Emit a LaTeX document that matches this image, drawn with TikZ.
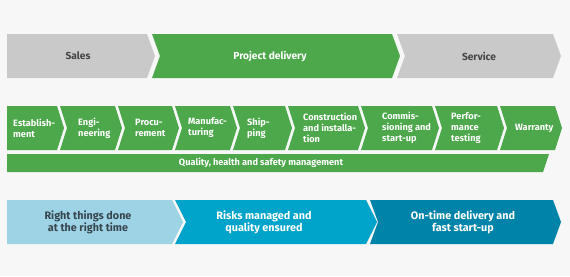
\documentclass[tikz,border=0pt]{standalone}
\usepackage{fontspec}
\setmainfont{Fira Sans}
\definecolor{bgc}{HTML}{F7F7F7}
\definecolor{grayc}{HTML}{C9C9C9}
\definecolor{greenc}{HTML}{4CA84A}
\definecolor{lblue}{HTML}{9ED2E5}
\definecolor{mblue}{HTML}{00A3C9}
\definecolor{dblue}{HTML}{0083A8}
\definecolor{darktext}{HTML}{454545}
\definecolor{bluetext}{HTML}{36464E}
\newcommand{\chevA}[5]{(#1,#3) -- (#2,#3) -- ({#2+#5},{(#3+#4)/2}) -- (#2,#4) -- (#1,#4) -- cycle}
\newcommand{\chevB}[5]{(#1,#3) -- (#2,#3) -- ({#2+#5},{(#3+#4)/2}) -- (#2,#4) -- (#1,#4) -- ({#1+#5},{(#3+#4)/2}) -- cycle}
\begin{document}
\begin{tikzpicture}[x=1pt,y=-1pt,
  toplabel/.style={font=\bfseries\fontsize{10.2}{12}\selectfont,inner sep=0pt,align=center},
  midlabel/.style={font=\bfseries\fontsize{9.2}{11}\selectfont,inner sep=0pt,align=left,anchor=west,text=white},
  botlabel/.style={font=\bfseries\fontsize{10.8}{12}\selectfont,inner sep=0pt,align=center}]
\useasboundingbox[fill=bgc] (0,0) rectangle (570,276);
% top row
\fill[grayc] \chevA{7}{147}{34}{78}{8};
\fill[greenc] \chevB{152}{392}{34}{78}{8};
\fill[grayc] \chevB{397}{553}{34}{78}{8};
\node[toplabel,text=darktext] (sales) at (78,56) {Sales};
\node[toplabel,text=white] (project) at (270,56) {Project delivery};
\node[toplabel,text=darktext] (service) at (479,56) {Service};
% middle row
\fill[greenc] \chevA{7}{57}{106}{150}{7};
\fill[greenc] \chevB{60}{115}{106}{150}{7};
\fill[greenc] \chevB{118}{172}{106}{150}{7};
\fill[greenc] \chevB{175}{230}{106}{150}{7};
\fill[greenc] \chevB{233}{285}{106}{150}{7};
\fill[greenc] \chevB{288}{358}{106}{150}{7};
\fill[greenc] \chevB{361}{432}{106}{150}{7};
\fill[greenc] \chevB{435}{497}{106}{150}{7};
\fill[greenc] \chevB{500}{555}{106}{150}{7};
\node[midlabel] (est) at (13,128) {Establish-\\ment};
\node[midlabel] (eng) at (78,128) {Engi-\\neering};
\node[midlabel] (proc) at (135,128) {Procu-\\rement};
\node[midlabel] (man) at (188,128) {Manufac-\\turing};
\node[midlabel] (ship) at (247,128) {Ship-\\ping};
\node[midlabel] (cons) at (303,128) {Construction\\and installa-\\tion};
\node[midlabel] (comm) at (382,128) {Commis-\\sioning and\\start-up};
\node[midlabel] (perf) at (451,128) {Perfor-\\mance\\testing};
\node[midlabel] (warr) at (515,128) {Warranty};
% quality bar
\fill[greenc] (7,154) -- (549,154) -- (543,172) -- (7,172) -- cycle;
\node[midlabel,anchor=center] (qual) at (261,163) {Quality, health and safety management};
% bottom row
\fill[lblue] \chevA{7}{172}{200}{244}{11};
\fill[mblue] \chevB{175}{366}{200}{244}{11};
\fill[dblue] \chevB{370}{553}{200}{244}{8};
\node[botlabel,text=bluetext] (right) at (88,222) {Right things done\\at the right time};
\node[botlabel,text=white] (risks) at (264,222) {Risks managed and\\quality ensured};
\node[botlabel,text=white] (ontime) at (463,222) {On-time delivery and\\fast start-up};
\end{tikzpicture}
\end{document}
